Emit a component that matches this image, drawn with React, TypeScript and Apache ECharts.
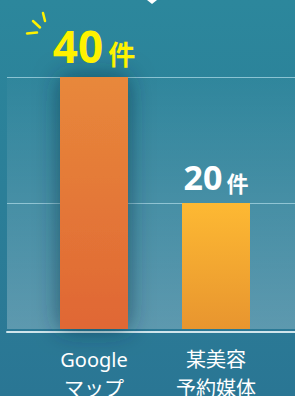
import React, { useEffect, useRef } from 'react';
import * as echarts from 'echarts';

const categories = ['Google\nマップ', '某美容\n予約媒体'];
const counts = [40, 20];
const unit = '件';
const yMax = 40;
const yStep = 20;

export default function App() {
  const ref = useRef<HTMLDivElement>(null);
  useEffect(() => {
    const chart = echarts.init(ref.current as HTMLDivElement, null, { renderer: 'svg' });
    const font = '"Noto Sans", "Noto Sans CJK JP", sans-serif';
    const labelStyles = [
      { color: '#fff200', big: 44, small: 27, gap: 5 },
      { color: '#ffffff', big: 34, small: 22, gap: 4 },
    ];
    const barColors = [
      ['#e8883b', '#e06734'],
      ['#fdb933', '#e8952f'],
    ];
    chart.setOption({
      animation: false,
      backgroundColor: new echarts.graphic.LinearGradient(0, 0, 0, 1, [
        { offset: 0, color: '#2c879c' },
        { offset: 1, color: '#2a7694' },
      ]),
      grid: [
        { left: 33, right: 18, top: 77, bottom: 67, outerBoundsMode: 'none', containLabel: false },
        {
          left: 7,
          right: 0,
          top: 77,
          bottom: 67,
          outerBoundsMode: 'none',
          containLabel: false,
          show: true,
          borderWidth: 0,
          backgroundColor: new echarts.graphic.LinearGradient(0, 0, 0, 1, [
            { offset: 0, color: 'rgba(255,255,255,0.02)' },
            { offset: 1, color: 'rgba(255,255,255,0.24)' },
          ]),
        },
      ],
      xAxis: [
        {
          type: 'category',
          gridIndex: 0,
          data: categories,
          axisLine: { show: false },
          axisTick: { show: false },
          axisLabel: {
            color: '#ffffff',
            fontSize: 20,
            lineHeight: 29,
            margin: 16,
            fontFamily: font,
          },
        },
        {
          type: 'value',
          gridIndex: 1,
          position: 'bottom',
          min: 0,
          max: 1,
          offset: 3,
          axisLine: { show: true, onZero: false, lineStyle: { color: '#cfe5ec', width: 2 } },
          axisTick: { show: false },
          axisLabel: { show: false },
          splitLine: { show: false },
        },
      ],
      yAxis: [
        { type: 'value', gridIndex: 0, min: 0, max: yMax, interval: yStep, show: false },
        {
          type: 'value',
          gridIndex: 1,
          min: 0,
          max: yMax,
          interval: yStep,
          axisLine: { show: false },
          axisTick: { show: false },
          axisLabel: { show: false },
          splitLine: {
            show: true,
            showMinLine: false,
            lineStyle: { color: 'rgba(170,215,228,0.75)', width: 1 },
          },
        },
      ],
      series: [
        {
          type: 'bar',
          xAxisIndex: 0,
          yAxisIndex: 0,
          barWidth: 68,
          data: counts.map((v, i) => ({
            value: v,
            itemStyle: {
              color: new echarts.graphic.LinearGradient(0, 0, 0, 1, [
                { offset: 0, color: barColors[i][0] },
                { offset: 1, color: barColors[i][1] },
              ]),
              shadowBlur: i === 0 ? 24 : 0,
              shadowColor: i === 0 ? 'rgba(10,45,65,0.6)' : 'transparent',
            },
            label: {
              show: true,
              position: 'top',
              distance: 9,
              formatter: `{a|${v}}{b|${unit}}`,
              rich: {
                a: {
                  color: labelStyles[i].color,
                  fontSize: labelStyles[i].big,
                  fontWeight: 'bold',
                  fontFamily: font,
                  lineHeight: labelStyles[i].big,
                  verticalAlign: 'bottom',
                },
                b: {
                  color: labelStyles[i].color,
                  fontSize: labelStyles[i].small,
                  fontWeight: 'bold',
                  fontFamily: font,
                  lineHeight: labelStyles[i].small,
                  verticalAlign: 'bottom',
                  padding: [0, 0, 0, labelStyles[i].gap],
                },
              },
            },
          })),
        },
      ],
      graphic: [
        {
          type: 'polygon',
          shape: { points: [[147, 0], [157, 0], [152, 4]] },
          style: { fill: '#ffffff' },
        },
        {
          type: 'line',
          shape: { x1: 27, y1: 33.5, x2: 37, y2: 32.5 },
          style: { stroke: '#fff200', lineWidth: 2.5, lineCap: 'round' },
        },
        {
          type: 'line',
          shape: { x1: 33, y1: 21, x2: 40, y2: 27.5 },
          style: { stroke: '#fff200', lineWidth: 2.5, lineCap: 'round' },
        },
        {
          type: 'line',
          shape: { x1: 43, y1: 13, x2: 45, y2: 21 },
          style: { stroke: '#fff200', lineWidth: 2.5, lineCap: 'round' },
        },
      ],
    });
    return () => chart.dispose();
  }, []);
  return (
    <div
      ref={ref}
      style={{ position: 'absolute', left: 0, top: 0, width: 295, height: 396 }}
    />
  );
}
